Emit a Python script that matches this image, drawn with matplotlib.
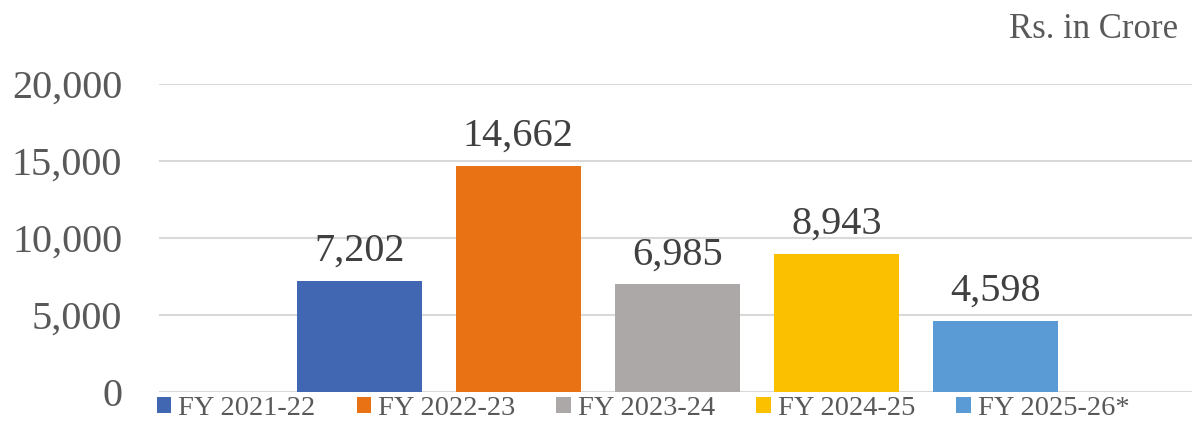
import matplotlib.pyplot as plt
from matplotlib.ticker import FuncFormatter

# Data
years = ["FY 2021-22", "FY 2022-23", "FY 2023-24", "FY 2024-25", "FY 2025-26*"]
values = [7202, 14662, 6985, 8943, 4598]
colors = ["#4267B2", "#E97214", "#ABA8A7", "#FBC000", "#5B9BD5"]

plt.rcParams['font.family'] = ['Liberation Serif', 'DejaVu Serif']

fig = plt.figure(figsize=(11.92, 4.23), dpi=100)
ax = fig.add_axes([0.1334, 0.074, 0.8666, 0.7286])

for i, (yr, v, c) in enumerate(zip(years, values, colors)):
    ax.bar(i, v, width=0.786, color=c, label=yr, zorder=2)
    ax.text(i, v + 700, f"{v:,}", ha='center', va='bottom', fontsize=29, color='#404040')

ax.set_xlim(-1.258, 5.234)
ax.set_ylim(0, 20000)
ax.set_yticks([0, 5000, 10000, 15000, 20000])
ax.yaxis.set_major_formatter(FuncFormatter(lambda v, p: f"{int(v):,}"))
ax.set_xticks([])
ax.tick_params(axis='y', length=0, labelsize=29, labelcolor='#595959', pad=26.5)
ax.grid(axis='y', color='#D9D9D9', linewidth=1.5, zorder=0)
for s in ax.spines.values():
    s.set_visible(False)

fig.text(0.988, 0.93, "Rs. in Crore", ha='right', va='center', fontsize=25, color='#595959')

leg = fig.legend(loc='center', bbox_to_anchor=(0.5394, 0.034), ncol=5, frameon=False,
                 fontsize=20.5, handlelength=0.5, handleheight=0.5, handletextpad=0.25,
                 columnspacing=1.45, borderpad=0)
for t in leg.get_texts():
    t.set_color('#595959')

fig.savefig("out.png", dpi=100)
